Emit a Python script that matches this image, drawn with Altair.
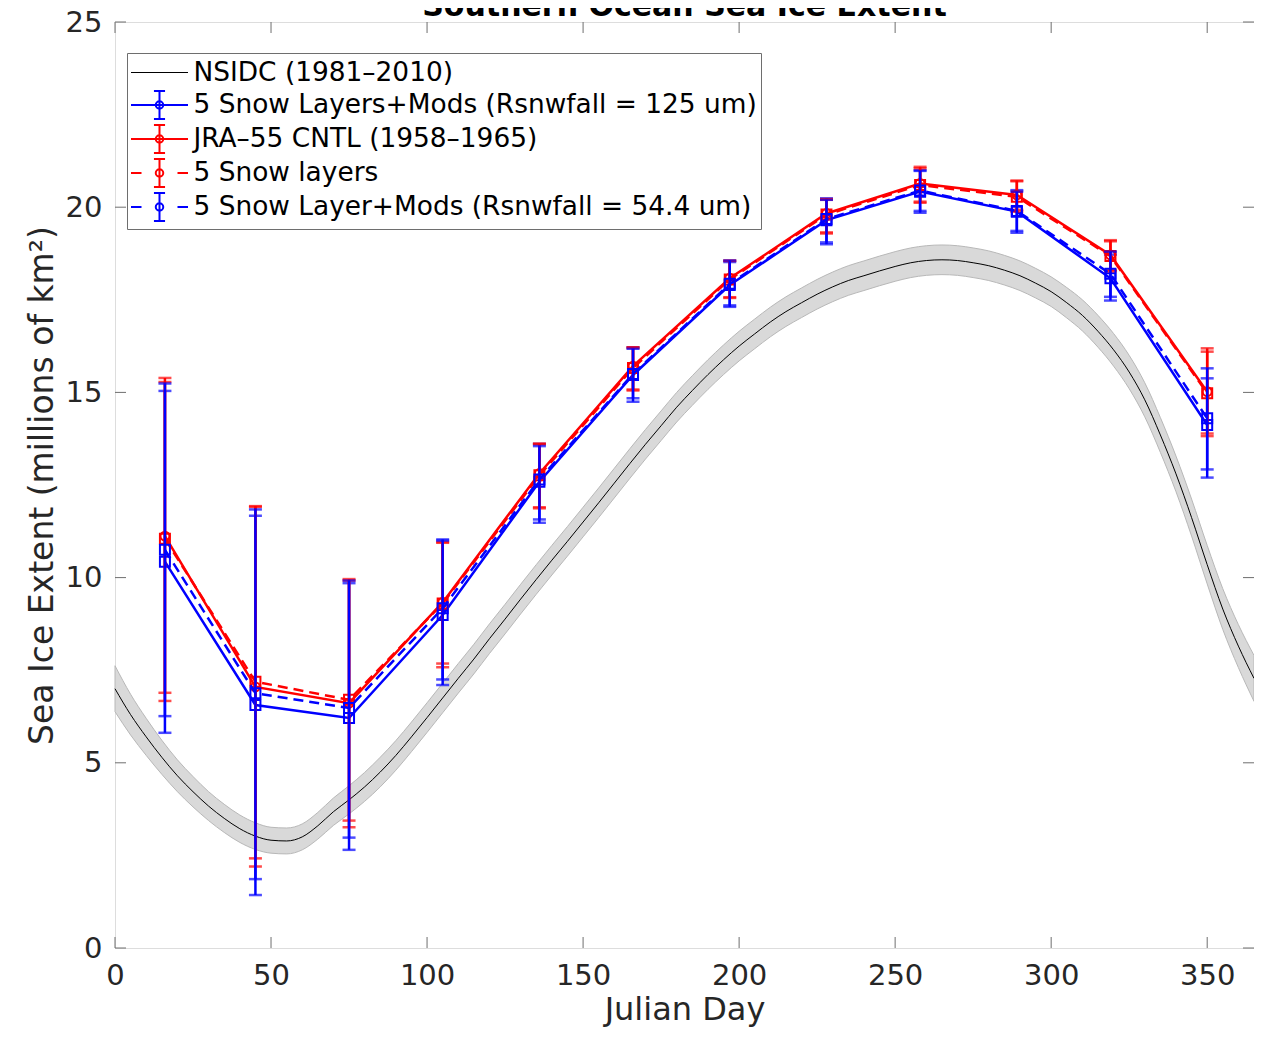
import altair as alt
import pandas as pd

# ---------------- data ----------------
nsidc_day = list(range(0, 366, 5))
nsidc_mean = [7.00, 6.30, 5.70, 5.15, 4.65, 4.22, 3.83, 3.50, 3.22, 3.02,
              2.91, 2.89, 3.00, 3.30, 3.68, 4.00, 4.35, 4.75, 5.20, 5.70,
              6.22, 6.75, 7.28, 7.80, 8.35, 8.88, 9.42, 9.95, 10.47, 10.98,
              11.50, 12.02, 12.55, 13.08, 13.60, 14.10, 14.60, 15.05, 15.48, 15.88,
              16.25, 16.58, 16.90, 17.18, 17.42, 17.65, 17.85, 18.02, 18.15, 18.28,
              18.40, 18.50, 18.56, 18.58, 18.56, 18.50, 18.42, 18.30, 18.15, 17.95,
              17.72, 17.42, 17.08, 16.65, 16.15, 15.55, 14.80, 13.85, 12.80, 11.62,
              10.35, 9.15, 8.15, 7.28]
nsidc_std = [0.62, 0.55, 0.50, 0.46, 0.43, 0.41, 0.39, 0.38, 0.37, 0.36,
             0.35, 0.35, 0.35, 0.36, 0.37, 0.38, 0.39, 0.40, 0.40, 0.40,
             0.40, 0.40, 0.40, 0.40, 0.40, 0.40, 0.40, 0.40, 0.40, 0.40,
             0.40, 0.40, 0.40, 0.40, 0.40, 0.40, 0.40, 0.40, 0.40, 0.40,
             0.40, 0.40, 0.40, 0.40, 0.40, 0.40, 0.40, 0.40, 0.40, 0.40,
             0.40, 0.40, 0.40, 0.40, 0.40, 0.40, 0.40, 0.40, 0.40, 0.40,
             0.40, 0.41, 0.42, 0.43, 0.44, 0.45, 0.46, 0.47, 0.48, 0.50,
             0.52, 0.55, 0.58, 0.62]

month_day = [16, 45, 75, 105, 136, 166, 197, 228, 258, 289, 319, 350]

# 5 Snow Layers+Mods (Rsnwfall = 125 um)
s125_mean = [10.43, 6.56, 6.21, 8.99, 12.59, 15.47, 17.90, 19.65, 20.42, 19.88, 18.08, 14.12]
s125_low = [5.81, 1.43, 2.65, 7.10, 11.48, 14.75, 17.31, 19.00, 19.85, 19.31, 17.48, 12.70]
s125_high = [15.04, 11.67, 9.85, 11.03, 13.61, 16.22, 18.52, 20.24, 21.00, 20.46, 18.72, 15.38]

# JRA-55 CNTL (1958-1965)
jra_mean = [11.12, 7.05, 6.61, 9.33, 12.81, 15.71, 18.08, 19.83, 20.64, 20.33, 18.71, 15.02]
jra_low = [6.89, 2.20, 3.26, 7.68, 11.87, 15.08, 17.57, 19.29, 20.15, 19.93, 18.30, 13.89]
jra_high = [15.39, 11.91, 9.92, 10.96, 13.62, 16.20, 18.56, 20.22, 21.09, 20.72, 19.11, 16.19]

# 5 Snow layers
snow5_mean = [11.05, 7.19, 6.70, 9.30, 12.76, 15.66, 18.05, 19.80, 20.60, 20.28, 18.68, 14.98]
snow5_low = [6.67, 2.42, 3.44, 7.58, 11.90, 15.05, 17.55, 19.32, 20.12, 19.88, 18.27, 13.82]
snow5_high = [15.28, 11.93, 9.96, 10.94, 13.60, 16.22, 18.55, 20.20, 21.05, 20.70, 19.08, 16.10]

# 5 Snow Layer+Mods (Rsnwfall = 54.4 um)
s544_mean = [10.75, 6.88, 6.48, 9.17, 12.65, 15.50, 17.93, 19.68, 20.45, 19.90, 18.20, 14.30]
s544_low = [6.26, 1.86, 2.98, 7.25, 11.57, 14.84, 17.35, 19.05, 19.90, 19.36, 17.58, 12.92]
s544_high = [15.24, 11.84, 9.92, 11.00, 13.55, 16.18, 18.56, 20.20, 20.98, 20.42, 18.80, 15.65]

legend_labels = ["NSIDC (1981\u20132010)",
                 "5 Snow Layers+Mods (Rsnwfall = 125 um)",
                 "JRA\u201355 CNTL (1958\u20131965)",
                 "5 Snow layers",
                 "5 Snow Layer+Mods (Rsnwfall = 54.4 um)"]

title_text = ["Southern Ocean Sea Ice Extent"]

x_ticks = [0, 50, 100, 150, 200, 250, 300, 350]
y_ticks = [0, 5, 10, 15, 20, 25]

# ---------------- style ----------------
FONT = "DejaVu Sans"
TXT = "#262626"
SPINE = "#6e6e6e"
BLUE = "#0000ff"
RED = "#ff0000"
W, H = 1139, 926

x_axis = alt.Axis(values=x_ticks, format="d", ticks=False, domain=False, grid=False,
                  labelFontSize=29, labelPadding=13, labelColor=TXT, labelFlush=False,
                  labelOverlap=False, labelFont=FONT,
                  title="Julian Day", titleFontSize=32, titleFontWeight="normal",
                  titleColor=TXT, titlePadding=4, titleFont=FONT)
y_axis = alt.Axis(values=y_ticks, format="d", ticks=False, domain=False, grid=False,
                  labelFontSize=29, labelPadding=13, labelColor=TXT, labelOverlap=False,
                  labelFont=FONT,
                  title="Sea Ice Extent (millions of km\u00b2)", titleFontSize=33,
                  titleFontWeight="normal", titleColor=TXT, titlePadding=6, titleFont=FONT)
xs = alt.Scale(domain=[0, 365], nice=False, zero=False)
ys = alt.Scale(domain=[0, 25], nice=False, zero=False)


def X(field="day"):
    return alt.X(f"{field}:Q", scale=xs, axis=x_axis)


def Y(field):
    return alt.Y(f"{field}:Q", scale=ys, axis=y_axis)


nsidc = pd.DataFrame({"day": nsidc_day, "mean": nsidc_mean, "std": nsidc_std})
nsidc["lo"] = nsidc["mean"] - nsidc["std"]
nsidc["hi"] = nsidc["mean"] + nsidc["std"]

band = alt.Chart(nsidc).mark_area(color="#d9d9d9", stroke="#b8b8b8", strokeWidth=1,
                                  interpolate="monotone").encode(
    x=X(), y=Y("lo"), y2="hi:Q")
nline = alt.Chart(nsidc).mark_line(color="black", strokeWidth=1,
                                   interpolate="monotone").encode(x=X(), y=Y("mean"))

layers = [band, nline]

series = [
    (s125_mean, s125_low, s125_high, BLUE, None, "square"),
    (jra_mean, jra_low, jra_high, RED, None, "circle"),
    (snow5_mean, snow5_low, snow5_high, RED, [10, 6], "square"),
    (s544_mean, s544_low, s544_high, BLUE, [10, 6], "square"),
]
for mean, low, high, col, dash, shp in series:
    df = pd.DataFrame({"day": month_day, "mean": mean, "low": low, "high": high})
    base = alt.Chart(df)
    lkw = dict(color=col, strokeWidth=2.5)
    if dash:
        lkw["strokeDash"] = dash
    layers.append(base.mark_line(**lkw).encode(x=X(), y=Y("mean")))
    layers.append(base.mark_rule(color=col, strokeWidth=2.5).encode(x=X(), y=Y("low"), y2="high:Q"))
    layers.append(base.mark_tick(color=col, orient="horizontal", size=13, thickness=2.5).encode(x=X(), y=Y("low")))
    layers.append(base.mark_tick(color=col, orient="horizontal", size=13, thickness=2.5).encode(x=X(), y=Y("high")))
    layers.append(base.mark_point(shape=shp, filled=False, color=col, strokeWidth=2, opacity=1,
                                  size=100 if shp == "square" else 80).encode(x=X(), y=Y("mean")))

# legend (drawn by the library from an explicit domain); symbol unit = 15 px
eb = "M0,-0.93V0.93M-0.37,-0.93H0.37M-0.37,0.93H0.37M0.25,0A0.25,0.25,0,1,1,-0.25,0A0.25,0.25,0,1,1,0.25,0"
solid_path = "M-1.9,0H1.9" + eb
dashed_path = "M-1.9,0H-1.2M1.2,0H1.9" + eb
line_path = "M0,-0.93M0,0.93M-1.9,0H1.9"
legend_paths = [line_path, solid_path, solid_path, dashed_path, dashed_path]
legend_colors = ["black", BLUE, RED, RED, BLUE]
legend_widths = [1, 2, 2, 2, 2]

leg = alt.Legend(orient="none", legendX=12, legendY=31, title=None,
                 labelFont=FONT, labelFontSize=26.4, labelColor="black", labelOffset=18,
                 labelLimit=0, symbolSize=900, symbolOffset=12.5,
                 symbolFillColor="transparent", symbolOpacity=1, padding=4, rowPadding=-3.0,
                 strokeColor="#6e6e6e", fillColor="white")
legdf = pd.DataFrame({"series": legend_labels, "day": [0] * 5, "v": [0] * 5})
legend_layer = alt.Chart(legdf).mark_point(filled=False, opacity=1).encode(
    x=X(), y=Y("v"),
    color=alt.Color("series:N", scale=alt.Scale(domain=legend_labels, range=legend_colors), legend=leg),
    shape=alt.Shape("series:N", scale=alt.Scale(domain=legend_labels, range=legend_paths), legend=leg),
    strokeWidth=alt.StrokeWidth("series:N", scale=alt.Scale(type="ordinal", domain=legend_labels,
                                                            range=legend_widths), legend=leg),
).transform_filter("false")
layers.append(legend_layer)

# inward tick marks on all four sides
xt = pd.DataFrame({"day": x_ticks})
yt = pd.DataFrame({"v": y_ticks})
layers.append(alt.Chart(xt).mark_rule(color=SPINE, strokeWidth=1).encode(x=X(), y=alt.value(H), y2=alt.value(H - 11)))
layers.append(alt.Chart(xt).mark_rule(color=SPINE, strokeWidth=1).encode(x=X(), y=alt.value(0), y2=alt.value(11)))
layers.append(alt.Chart(yt).mark_rule(color=SPINE, strokeWidth=1).encode(y=Y("v"), x=alt.value(0), x2=alt.value(11)))
layers.append(alt.Chart(yt).mark_rule(color=SPINE, strokeWidth=1).encode(y=Y("v"), x=alt.value(W), x2=alt.value(W - 11)))

# chart title, cut by the top edge as in the reference
tdf = pd.DataFrame({"t": title_text})
layers.append(alt.Chart(tdf).mark_text(font=FONT, fontSize=30, fontWeight="bold", color="black",
                                       align="center", baseline="alphabetic").encode(
    text="t:N", x=alt.value(W / 2), y=alt.value(-6)))

chart = alt.layer(*layers).properties(
    width=W, height=H,
    autosize=alt.AutoSizeParams(type="none"),
    padding={"left": 107, "top": 14, "right": 0, "bottom": 80},
).configure_view(stroke=SPINE, strokeWidth=1).configure(font=FONT, background="white")

chart.save("out.html", embed_options={"renderer": "svg", "actions": False})
